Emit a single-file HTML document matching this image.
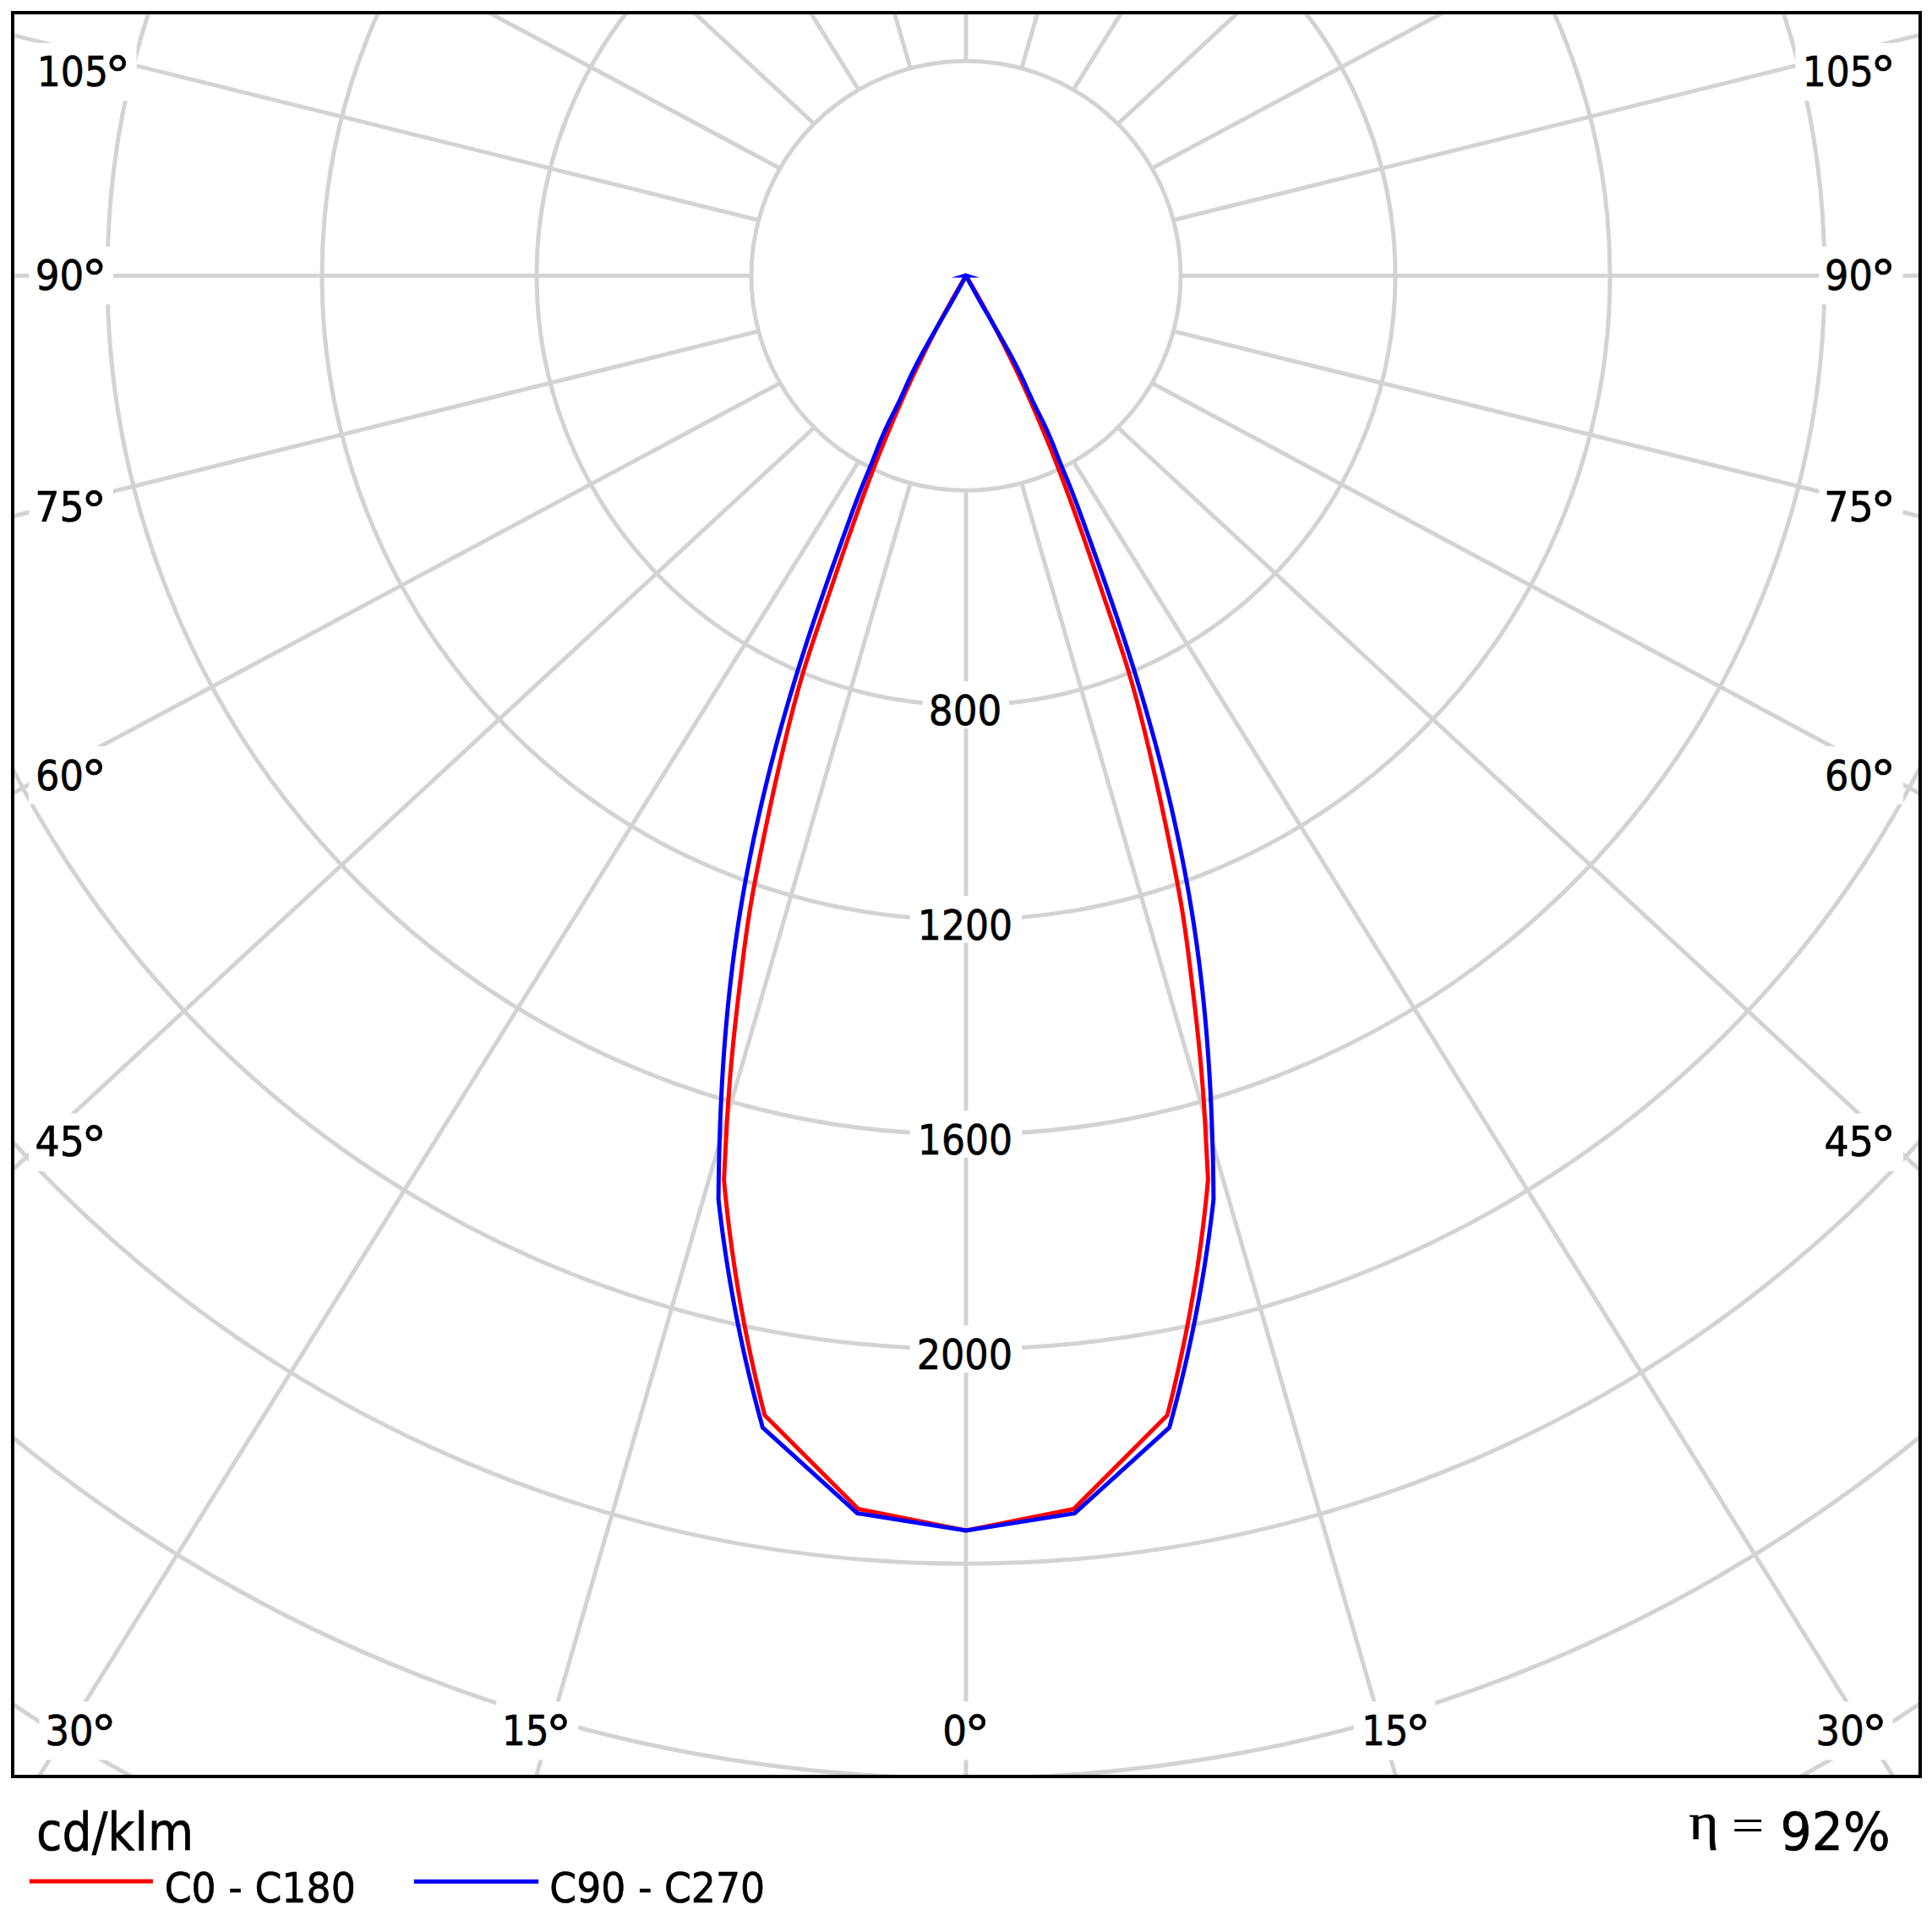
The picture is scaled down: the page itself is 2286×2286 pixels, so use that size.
<!DOCTYPE html><html><head><meta charset="utf-8"><title>Polar diagram</title>
<style>html,body{margin:0;padding:0;background:#fff;}svg{display:block;}</style></head><body>
<svg xmlns="http://www.w3.org/2000/svg" width="2286" height="2286" viewBox="0 0 2286 2286" font-family="'DejaVu Sans', 'Liberation Sans', sans-serif">
<rect width="2286" height="2286" fill="#fff"/>
<defs><clipPath id="pa"><rect x="13" y="13" width="2261" height="2091"/></clipPath></defs>
<g clip-path="url(#pa)">
<g fill="none" stroke="#d3d3d3" stroke-width="5">
<circle cx="1143" cy="326.2" r="254"/>
<circle cx="1143" cy="326.2" r="508"/>
<circle cx="1143" cy="326.2" r="762"/>
<circle cx="1143" cy="326.2" r="1016"/>
<circle cx="1143" cy="326.2" r="1270"/>
<circle cx="1143" cy="326.2" r="1524"/>
<circle cx="1143" cy="326.2" r="1778"/>
<circle cx="1143" cy="326.2" r="2032"/>
<circle cx="1143" cy="326.2" r="2286"/>
<line x1="1143" y1="580.2" x2="1143" y2="4284.2"/>
<line x1="1077.26" y1="571.55" x2="41.98" y2="4149.33"/>
<line x1="1016" y1="546.17" x2="-984" y2="3753.93"/>
<line x1="963.39" y1="505.81" x2="-1865.03" y2="3124.93"/>
<line x1="923.03" y1="453.2" x2="-2541.07" y2="2305.2"/>
<line x1="897.65" y1="391.94" x2="-2966.05" y2="1350.61"/>
<line x1="889" y1="326.2" x2="-3111" y2="326.2"/>
<line x1="897.65" y1="260.46" x2="-2966.05" y2="-698.21"/>
<line x1="923.03" y1="199.2" x2="-2541.07" y2="-1652.8"/>
<line x1="963.39" y1="146.59" x2="-1865.03" y2="-2472.53"/>
<line x1="1016" y1="106.23" x2="-984" y2="-3101.53"/>
<line x1="1077.26" y1="80.85" x2="41.98" y2="-3496.93"/>
<line x1="1143" y1="72.2" x2="1143" y2="-3631.8"/>
<line x1="1208.74" y1="80.85" x2="2244.02" y2="-3496.93"/>
<line x1="1270" y1="106.23" x2="3270" y2="-3101.53"/>
<line x1="1322.61" y1="146.59" x2="4151.03" y2="-2472.53"/>
<line x1="1362.97" y1="199.2" x2="4827.07" y2="-1652.8"/>
<line x1="1388.35" y1="260.46" x2="5252.05" y2="-698.21"/>
<line x1="1397" y1="326.2" x2="5397" y2="326.2"/>
<line x1="1388.35" y1="391.94" x2="5252.05" y2="1350.61"/>
<line x1="1362.97" y1="453.2" x2="4827.07" y2="2305.2"/>
<line x1="1322.61" y1="505.81" x2="4151.03" y2="3124.93"/>
<line x1="1270" y1="546.17" x2="3270" y2="3753.93"/>
<line x1="1208.74" y1="571.55" x2="2244.02" y2="4149.33"/>
</g>
<g fill="#fff">
<rect x="34.4" y="50.8" width="127.2" height="68.5"/>
<rect x="34.4" y="291.7" width="99.3" height="68.5"/>
<rect x="34.4" y="566.6" width="99.3" height="68.5"/>
<rect x="34" y="883" width="99.5" height="68.5"/>
<rect x="34" y="1317.3" width="99.5" height="68.5"/>
<rect x="46.5" y="2013.3" width="99.3" height="69.2"/>
<rect x="587" y="2013.3" width="97" height="69.2"/>
<rect x="1107" y="2013.3" width="70" height="69.2"/>
<rect x="1601.9" y="2013.3" width="96.6" height="69.2"/>
<rect x="2140.2" y="2013.3" width="99.3" height="69.2"/>
<rect x="2124.4" y="50.8" width="127.2" height="68.5"/>
<rect x="2152.3" y="291.7" width="99.3" height="68.5"/>
<rect x="2152.3" y="566.6" width="99.3" height="68.5"/>
<rect x="2152.5" y="883" width="99.5" height="68.5"/>
<rect x="2152.5" y="1317.3" width="99.5" height="68.5"/>
<rect x="1091.6" y="806.1" width="102.2" height="55.5"/>
<rect x="1076.8" y="1060" width="132.3" height="55.5"/>
<rect x="1076.8" y="1314.2" width="132.3" height="55.5"/>
<rect x="1076.8" y="1568.3" width="132.3" height="55.9"/>
</g>
<path d="M1143 326.2 L1137.68 335.19 L1132.47 344.18 L1127.35 353.16 L1122.33 362.15 L1117.41 371.14 L1112.58 380.13 L1107.83 389.12 L1103.18 398.11 L1098.6 407.09 L1094.11 416.08 L1089.7 425.07 L1085.37 434.06 L1081.11 443.05 L1076.92 452.04 L1072.8 461.02 L1068.75 470.01 L1064.76 479 L1060.84 487.99 L1056.97 496.98 L1053.17 505.96 L1049.41 514.95 L1045.72 523.94 L1042.09 532.93 L1038.51 541.92 L1035 550.91 L1031.53 559.89 L1028.12 568.88 L1024.76 577.87 L1021.44 586.86 L1018.16 595.85 L1014.91 604.84 L1011.7 613.82 L1008.52 622.81 L1005.36 631.8 L1002.23 640.79 L999.12 649.78 L996.03 658.76 L992.95 667.75 L989.89 676.74 L986.83 685.73 L983.78 694.72 L980.74 703.71 L977.69 712.69 L974.65 721.68 L971.59 730.67 L968.54 739.66 L965.5 748.65 L962.49 757.64 L959.51 766.62 L956.59 775.61 L953.73 784.6 L950.95 793.59 L948.27 802.58 L945.68 811.56 L943.17 820.55 L940.74 829.54 L938.38 838.53 L936.08 847.52 L933.83 856.51 L931.62 865.49 L929.44 874.48 L927.29 883.47 L925.18 892.46 L923.09 901.45 L921.03 910.44 L918.99 919.42 L916.99 928.41 L915 937.4 L913.05 946.39 L911.11 955.38 L909.2 964.36 L907.3 973.35 L905.43 982.34 L903.57 991.33 L901.73 1000.32 L899.9 1009.31 L898.09 1018.29 L896.3 1027.28 L894.55 1036.27 L892.83 1045.26 L891.17 1054.25 L889.56 1063.24 L888.03 1072.22 L886.56 1081.21 L885.17 1090.2 L883.86 1099.19 L882.6 1108.18 L881.39 1117.16 L880.22 1126.15 L879.08 1135.14 L877.95 1144.13 L876.85 1153.12 L875.75 1162.11 L874.66 1171.09 L873.59 1180.08 L872.53 1189.07 L871.5 1198.06 L870.49 1207.05 L869.5 1216.04 L868.54 1225.02 L867.61 1234.01 L866.71 1243 L865.85 1251.99 L865.03 1260.98 L864.24 1269.96 L863.5 1278.95 L862.8 1287.94 L862.15 1296.93 L861.54 1305.92 L860.96 1314.91 L860.42 1323.89 L859.9 1332.88 L859.41 1341.87 L858.93 1350.86 L858.46 1359.85 L858 1368.84 L857.54 1377.82 L857.07 1386.81 L856.6 1395.8 L857.91 1409.7 L859.34 1423.6 L860.88 1437.51 L862.53 1451.43 L864.31 1465.36 L866.19 1479.29 L868.2 1493.23 L870.32 1507.17 L872.55 1521.11 L874.9 1535.06 L877.37 1549.01 L879.95 1562.96 L882.65 1576.9 L885.47 1590.85 L888.4 1604.8 L891.45 1618.75 L894.61 1632.69 L897.89 1646.63 L901.29 1660.57 L904.8 1674.5 L1015.5 1785.4 L1143 1811 L1270.5 1785.4 L1381.2 1674.5 L1384.71 1660.57 L1388.11 1646.63 L1391.39 1632.69 L1394.55 1618.75 L1397.6 1604.8 L1400.53 1590.85 L1403.35 1576.9 L1406.05 1562.96 L1408.63 1549.01 L1411.1 1535.06 L1413.45 1521.11 L1415.68 1507.17 L1417.8 1493.23 L1419.81 1479.29 L1421.69 1465.36 L1423.47 1451.43 L1425.12 1437.51 L1426.66 1423.6 L1428.09 1409.7 L1429.4 1395.8 L1428.93 1386.81 L1428.46 1377.82 L1428 1368.84 L1427.54 1359.85 L1427.07 1350.86 L1426.59 1341.87 L1426.1 1332.88 L1425.58 1323.89 L1425.04 1314.91 L1424.46 1305.92 L1423.85 1296.93 L1423.2 1287.94 L1422.5 1278.95 L1421.76 1269.96 L1420.97 1260.98 L1420.15 1251.99 L1419.29 1243 L1418.39 1234.01 L1417.46 1225.02 L1416.5 1216.04 L1415.51 1207.05 L1414.5 1198.06 L1413.47 1189.07 L1412.41 1180.08 L1411.34 1171.09 L1410.25 1162.11 L1409.15 1153.12 L1408.05 1144.13 L1406.92 1135.14 L1405.78 1126.15 L1404.61 1117.16 L1403.4 1108.18 L1402.14 1099.19 L1400.83 1090.2 L1399.44 1081.21 L1397.97 1072.22 L1396.44 1063.24 L1394.83 1054.25 L1393.17 1045.26 L1391.45 1036.27 L1389.7 1027.28 L1387.91 1018.29 L1386.1 1009.31 L1384.27 1000.32 L1382.43 991.33 L1380.57 982.34 L1378.7 973.35 L1376.8 964.36 L1374.89 955.38 L1372.95 946.39 L1371 937.4 L1369.01 928.41 L1367.01 919.42 L1364.97 910.44 L1362.91 901.45 L1360.82 892.46 L1358.71 883.47 L1356.56 874.48 L1354.38 865.49 L1352.17 856.51 L1349.92 847.52 L1347.62 838.53 L1345.26 829.54 L1342.83 820.55 L1340.32 811.56 L1337.73 802.58 L1335.05 793.59 L1332.27 784.6 L1329.41 775.61 L1326.49 766.62 L1323.51 757.64 L1320.5 748.65 L1317.46 739.66 L1314.41 730.67 L1311.35 721.68 L1308.31 712.69 L1305.26 703.71 L1302.22 694.72 L1299.17 685.73 L1296.11 676.74 L1293.05 667.75 L1289.97 658.76 L1286.88 649.78 L1283.77 640.79 L1280.64 631.8 L1277.48 622.81 L1274.3 613.82 L1271.09 604.84 L1267.84 595.85 L1264.56 586.86 L1261.24 577.87 L1257.88 568.88 L1254.47 559.89 L1251 550.91 L1247.49 541.92 L1243.91 532.93 L1240.28 523.94 L1236.59 514.95 L1232.83 505.96 L1229.03 496.98 L1225.16 487.99 L1221.24 479 L1217.25 470.01 L1213.2 461.02 L1209.08 452.04 L1204.89 443.05 L1200.63 434.06 L1196.3 425.07 L1191.89 416.08 L1187.4 407.09 L1182.82 398.11 L1178.17 389.12 L1173.42 380.13 L1168.59 371.14 L1163.67 362.15 L1158.65 353.16 L1153.53 344.18 L1148.32 335.19 L1143 326.2" fill="none" stroke="#f00" stroke-width="5" stroke-linejoin="miter" stroke-miterlimit="10"/>
<path d="M1143 326.2 L1138.13 335.38 L1133.1 344.57 L1127.95 353.75 L1122.71 362.93 L1117.42 372.12 L1112.11 381.3 L1106.81 390.48 L1101.56 399.67 L1096.4 408.85 L1091.36 418.03 L1086.46 427.22 L1081.76 436.4 L1077.28 445.58 L1073.05 454.76 L1068.98 463.95 L1064.81 473.13 L1060.33 482.31 L1055.7 491.5 L1051.18 500.68 L1046.91 509.86 L1042.88 519.05 L1039.11 528.23 L1035.54 537.41 L1031.97 546.6 L1028.23 555.78 L1024.37 564.96 L1020.58 574.15 L1016.92 583.33 L1013.4 592.51 L1009.97 601.7 L1006.6 610.88 L1003.27 620.06 L999.95 629.25 L996.64 638.43 L993.34 647.61 L990.06 656.79 L986.78 665.98 L983.53 675.16 L980.29 684.34 L977.07 693.53 L973.88 702.71 L970.71 711.89 L967.57 721.08 L964.46 730.26 L961.37 739.44 L958.32 748.63 L955.31 757.81 L952.33 766.99 L949.39 776.18 L946.48 785.36 L943.62 794.54 L940.79 803.73 L938.01 812.91 L935.26 822.09 L932.55 831.28 L929.89 840.46 L927.26 849.64 L924.68 858.83 L922.13 868.01 L919.63 877.19 L917.17 886.37 L914.75 895.56 L912.37 904.74 L910.04 913.92 L907.75 923.11 L905.5 932.29 L903.3 941.47 L901.14 950.66 L899.02 959.84 L896.96 969.02 L894.93 978.21 L892.95 987.39 L891.02 996.57 L889.13 1005.76 L887.29 1014.94 L885.5 1024.12 L883.75 1033.31 L882.05 1042.49 L880.4 1051.67 L878.79 1060.86 L877.24 1070.04 L875.73 1079.22 L874.28 1088.41 L872.87 1097.59 L871.51 1106.77 L870.2 1115.95 L868.94 1125.14 L867.73 1134.32 L866.57 1143.5 L865.46 1152.69 L864.39 1161.87 L863.36 1171.05 L862.38 1180.24 L861.45 1189.42 L860.56 1198.6 L859.71 1207.79 L858.9 1216.97 L858.14 1226.15 L857.41 1235.34 L856.72 1244.52 L856.07 1253.7 L855.46 1262.89 L854.89 1272.07 L854.35 1281.25 L853.85 1290.44 L853.38 1299.62 L852.95 1308.8 L852.55 1317.98 L852.18 1327.17 L851.84 1336.35 L851.54 1345.53 L851.26 1354.72 L851.01 1363.9 L850.79 1373.08 L850.6 1382.27 L850.44 1391.45 L850.3 1400.63 L850.19 1409.82 L850.1 1419 L851.65 1432.48 L853.31 1445.97 L855.08 1459.46 L856.96 1472.96 L858.96 1486.46 L861.06 1499.97 L863.29 1513.48 L865.62 1526.99 L868.06 1540.51 L870.62 1554.02 L873.29 1567.54 L876.07 1581.06 L878.97 1594.57 L881.98 1608.09 L885.1 1621.6 L888.33 1635.11 L891.68 1648.61 L895.14 1662.12 L898.71 1675.61 L902.4 1689.1 L1014.5 1790.6 L1143 1811 L1271.5 1790.6 L1383.6 1689.1 L1387.29 1675.61 L1390.86 1662.12 L1394.32 1648.61 L1397.67 1635.11 L1400.9 1621.6 L1404.02 1608.09 L1407.03 1594.57 L1409.93 1581.06 L1412.71 1567.54 L1415.38 1554.02 L1417.94 1540.51 L1420.38 1526.99 L1422.71 1513.48 L1424.94 1499.97 L1427.04 1486.46 L1429.04 1472.96 L1430.92 1459.46 L1432.69 1445.97 L1434.35 1432.48 L1435.9 1419 L1435.81 1409.82 L1435.7 1400.63 L1435.56 1391.45 L1435.4 1382.27 L1435.21 1373.08 L1434.99 1363.9 L1434.74 1354.72 L1434.46 1345.53 L1434.16 1336.35 L1433.82 1327.17 L1433.45 1317.98 L1433.05 1308.8 L1432.62 1299.62 L1432.15 1290.44 L1431.65 1281.25 L1431.11 1272.07 L1430.54 1262.89 L1429.93 1253.7 L1429.28 1244.52 L1428.59 1235.34 L1427.86 1226.15 L1427.1 1216.97 L1426.29 1207.79 L1425.44 1198.6 L1424.55 1189.42 L1423.62 1180.24 L1422.64 1171.05 L1421.61 1161.87 L1420.54 1152.69 L1419.43 1143.5 L1418.27 1134.32 L1417.06 1125.14 L1415.8 1115.95 L1414.49 1106.77 L1413.13 1097.59 L1411.72 1088.41 L1410.27 1079.22 L1408.76 1070.04 L1407.21 1060.86 L1405.6 1051.67 L1403.95 1042.49 L1402.25 1033.31 L1400.5 1024.12 L1398.71 1014.94 L1396.87 1005.76 L1394.98 996.57 L1393.05 987.39 L1391.07 978.21 L1389.04 969.02 L1386.98 959.84 L1384.86 950.66 L1382.7 941.47 L1380.5 932.29 L1378.25 923.11 L1375.96 913.92 L1373.63 904.74 L1371.25 895.56 L1368.83 886.37 L1366.37 877.19 L1363.87 868.01 L1361.32 858.83 L1358.74 849.64 L1356.11 840.46 L1353.45 831.28 L1350.74 822.09 L1347.99 812.91 L1345.21 803.73 L1342.38 794.54 L1339.52 785.36 L1336.61 776.18 L1333.67 766.99 L1330.69 757.81 L1327.68 748.63 L1324.63 739.44 L1321.54 730.26 L1318.43 721.08 L1315.29 711.89 L1312.12 702.71 L1308.93 693.53 L1305.71 684.34 L1302.47 675.16 L1299.22 665.98 L1295.94 656.79 L1292.66 647.61 L1289.36 638.43 L1286.05 629.25 L1282.73 620.06 L1279.4 610.88 L1276.03 601.7 L1272.6 592.51 L1269.08 583.33 L1265.42 574.15 L1261.63 564.96 L1257.77 555.78 L1254.03 546.6 L1250.46 537.41 L1246.89 528.23 L1243.12 519.05 L1239.09 509.86 L1234.82 500.68 L1230.3 491.5 L1225.67 482.31 L1221.19 473.13 L1217.02 463.95 L1212.95 454.76 L1208.72 445.58 L1204.24 436.4 L1199.54 427.22 L1194.64 418.03 L1189.6 408.85 L1184.44 399.67 L1179.19 390.48 L1173.89 381.3 L1168.58 372.12 L1163.29 362.93 L1158.05 353.75 L1152.9 344.57 L1147.87 335.38 L1143 326.2" fill="none" stroke="#00f" stroke-width="5" stroke-linejoin="miter" stroke-miterlimit="10"/>
<path d="M1125.7 328.6 Q1134 326 1142.5 323.2 Q1151 326 1159.3 328.6 Q1142.5 328.2 1125.7 328.6 Z" fill="#00f"/>
</g>
<g fill="#000" stroke="#000" stroke-width="0.7">
<text transform="translate(43.75 102.1) scale(0.8736 1)" font-size="50.5">105</text>
<text transform="translate(124.09 110.07) scale(1.0009 1)" font-size="61">°</text>
<text transform="translate(41.85 343.4) scale(0.8956 1)" font-size="50.5">90</text>
<text transform="translate(96.39 351.37) scale(1.0009 1)" font-size="61">°</text>
<text transform="translate(41.32 617.1) scale(0.9120 1)" font-size="50.5">75</text>
<text transform="translate(95.89 625.07) scale(1.0009 1)" font-size="61">°</text>
<text transform="translate(41.98 935) scale(0.8853 1)" font-size="50.5">60</text>
<text transform="translate(95.89 942.97) scale(1.0009 1)" font-size="61">°</text>
<text transform="translate(41.46 1368) scale(0.9097 1)" font-size="50.5">45</text>
<text transform="translate(95.89 1375.97) scale(1.0009 1)" font-size="61">°</text>
<text transform="translate(53.38 2065) scale(0.8903 1)" font-size="50.5">30</text>
<text transform="translate(107.59 2072.97) scale(1.0009 1)" font-size="61">°</text>
<text transform="translate(593.9 2065) scale(0.8656 1)" font-size="50.5">15</text>
<text transform="translate(645.69 2072.97) scale(1.0009 1)" font-size="61">°</text>
<text transform="translate(1115.22 2065) scale(0.8960 1)" font-size="50.5">0</text>
<text transform="translate(1140.99 2072.97) scale(1.0009 1)" font-size="61">°</text>
<text transform="translate(1611.14 2065) scale(0.8582 1)" font-size="50.5">15</text>
<text transform="translate(1662.49 2072.97) scale(1.0009 1)" font-size="61">°</text>
<text transform="translate(2148.58 2065) scale(0.8903 1)" font-size="50.5">30</text>
<text transform="translate(2202.79 2072.97) scale(1.0009 1)" font-size="61">°</text>
<text transform="translate(2132.66 102.1) scale(0.8724 1)" font-size="50.5">105</text>
<text transform="translate(2212.89 110.07) scale(1.0009 1)" font-size="61">°</text>
<text transform="translate(2159.09 343.4) scale(0.8835 1)" font-size="50.5">90</text>
<text transform="translate(2212.89 351.37) scale(1.0009 1)" font-size="61">°</text>
<text transform="translate(2158.32 617.1) scale(0.9120 1)" font-size="50.5">75</text>
<text transform="translate(2212.89 625.07) scale(1.0009 1)" font-size="61">°</text>
<text transform="translate(2158.98 935) scale(0.8853 1)" font-size="50.5">60</text>
<text transform="translate(2212.89 942.97) scale(1.0009 1)" font-size="61">°</text>
<text transform="translate(2158.46 1368) scale(0.9097 1)" font-size="50.5">45</text>
<text transform="translate(2212.89 1375.97) scale(1.0009 1)" font-size="61">°</text>
<text transform="translate(1098.82 858.4) scale(0.8972 1)" font-size="50.5">800</text>
<text transform="translate(1085.86 1112.2) scale(0.8728 1)" font-size="50.5">1200</text>
<text transform="translate(1085.86 1365.9) scale(0.8728 1)" font-size="50.5">1600</text>
<text transform="translate(1084.64 1619.8) scale(0.8825 1)" font-size="50.5">2000</text>
</g>
<rect x="15" y="15" width="2257" height="2087" fill="none" stroke="#000" stroke-width="4"/>
<g fill="#000" stroke="#000" stroke-width="0.7">
<text transform="translate(42.94 2189.2) scale(0.8952 1)" font-size="62">cd/klm</text>
<text transform="translate(194.63 2250.8) scale(0.9071 1)" font-size="50.5">C0 - C180</text>
<text transform="translate(650.33 2251) scale(0.9052 1)" font-size="50.5">C90 - C270</text>
<text transform="translate(1998.55 2175.7) scale(1.0987 1)" font-size="61" font-family="'Liberation Serif', serif">η</text>
<text transform="translate(2048.89 2174) scale(1.5449 1)" font-size="42.5" font-family="'Liberation Sans', sans-serif" stroke="none">=</text>
<text transform="translate(2106.51 2189.2) scale(0.9442 1)" font-size="62">92%</text>
</g>
<line x1="34.8" y1="2226.1" x2="180.9" y2="2226.1" stroke="#f00" stroke-width="5"/>
<line x1="489.8" y1="2226.3" x2="637.2" y2="2226.3" stroke="#00f" stroke-width="5"/>
</svg></body></html>
